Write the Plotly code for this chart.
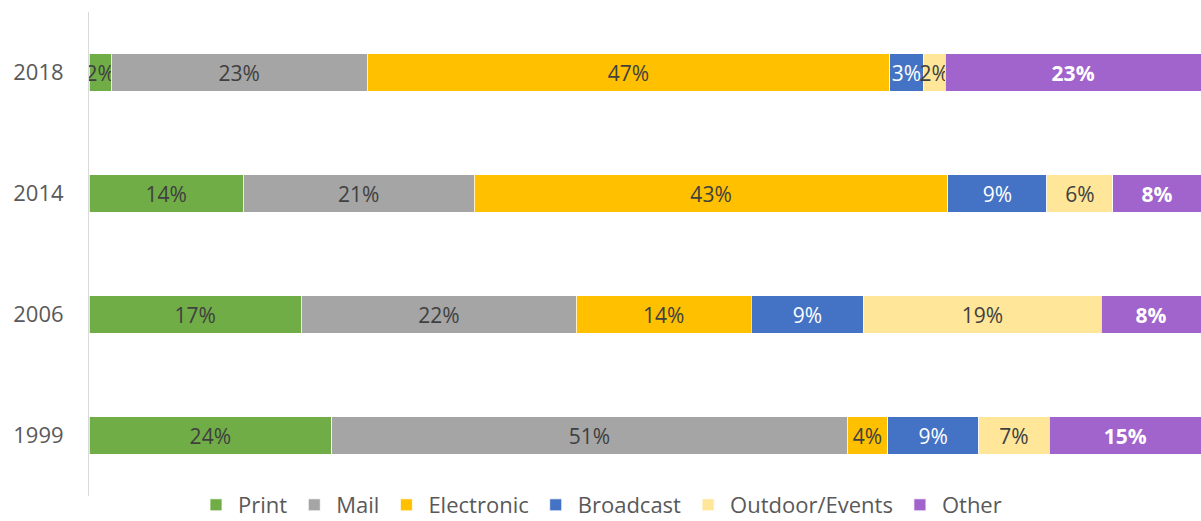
import plotly.graph_objects as go

years = ["1999", "2006", "2014", "2018"]
series = ["Print", "Mail", "Electronic", "Broadcast", "Outdoor/Events", "Other"]
print_v = [24, 17, 14, 2]
mail_v = [51, 22, 21, 23]
electronic_v = [4, 14, 43, 47]
broadcast_v = [9, 9, 9, 3]
outdoor_v = [7, 19, 6, 2]
other_v = [15, 8, 8, 23]

values = [print_v, mail_v, electronic_v, broadcast_v, outdoor_v, other_v]
colors = ["#70AD47", "#A5A5A5", "#FFC000", "#4472C4", "#FFE699", "#A064CC"]
text_colors = ["#404040", "#404040", "#404040", "#FFFFFF", "#404040", "#FFFFFF"]
FONT = "Open Sans"

fig = go.Figure()
for name, vals, col, tcol in zip(series, values, colors, text_colors):
    fig.add_trace(go.Bar(
        y=years, x=vals, name=name, orientation="h",
        marker=dict(color=col, line=dict(color="#FFFFFF", width=0.75)),
        text=[(f"<b>{v}%</b>" if name == "Other" else f"{v}%") for v in vals],
        textposition="inside", insidetextanchor="middle", textangle=0,
        constraintext="none",
        textfont=dict(color=tcol, size=21, family=FONT),
        hoverinfo="skip",
    ))

fig.update_layout(
    barmode="stack", barnorm="percent", bargap=0.69,
    width=1201, height=521,
    margin=dict(l=89, r=0, t=12, b=25, autoexpand=False),
    paper_bgcolor="white", plot_bgcolor="white",
    font=dict(family=FONT, color="#595959", size=22),
    xaxis=dict(range=[0, 100], visible=False, fixedrange=True),
    yaxis=dict(showline=True, linecolor="#D9D9D9", linewidth=1, ticks="",
               tickfont=dict(size=22, color="#595959"), ticklabelstandoff=20,
               showgrid=False, fixedrange=True),
    legend=dict(orientation="h", x=0.5, xref="container", xanchor="center",
                y=(521 - 505) / 521, yref="container", yanchor="middle",
                font=dict(size=22, color="#595959"), itemwidth=34,
                traceorder="normal"),
    showlegend=True,
)
fig.write_html("out.html")
